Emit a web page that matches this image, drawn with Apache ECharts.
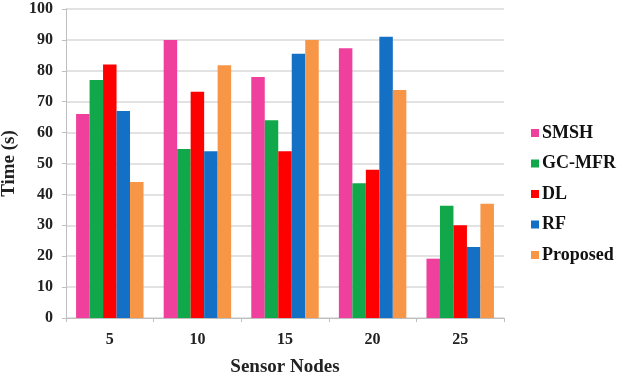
<!DOCTYPE html>
<html>
<head>
<meta charset="utf-8">
<script src="https://cdn.jsdelivr.net/npm/echarts@6/dist/echarts.min.js"></script>
<style>
  html, body { margin: 0; padding: 0; background: #fff; }
  #chart { width: 628px; height: 377px; }
</style>
</head>
<body>
<div id="chart"></div>
<script>
const nodes = ['5', '10', '15', '20', '25'];
const methods = ['SMSH', 'GC-MFR', 'DL', 'RF', 'Proposed'];
const colors = ['#f0409e', '#10a84a', '#ff0000', '#1470c4', '#f79646'];

const smsh = [66, 90, 78, 87.3, 19.2];
const gcmfr = [77, 54.7, 64, 43.6, 36.3];
const dl = [82, 73.2, 54, 48, 30];
const rf = [67, 54, 85.5, 91, 23];
const proposed = [44, 81.8, 90, 73.8, 37];

const values = [smsh, gcmfr, dl, rf, proposed];
const font = 'Liberation Serif';

const chart = echarts.init(document.getElementById('chart'));

const option = {
  animation: false,
  grid: { left: 66, right: 124, top: 9, bottom: 59, outerBoundsMode: 'none' },
  legend: {
    orient: 'vertical',
    left: 526,
    top: 119,
    itemWidth: 8,
    itemHeight: 8,
    itemGap: 12.5,
    icon: 'rect',
    data: methods,
    textStyle: { fontFamily: font, fontWeight: 'bold', fontSize: 18, color: '#111', lineHeight: 18, padding: [0, 0, 0, -2] }
  },
  xAxis: {
    type: 'category',
    data: nodes,
    name: 'Sensor Nodes',
    nameLocation: 'middle',
    nameGap: 40,
    nameTextStyle: { fontFamily: font, fontWeight: 'bold', fontSize: 19, color: '#222' },
    axisLine: { lineStyle: { color: '#bfbfbf' } },
    axisTick: { show: true, length: 4, lineStyle: { color: '#bfbfbf' } },
    axisLabel: { fontFamily: font, fontWeight: 'bold', fontSize: 16, color: '#222', margin: 14 }
  },
  yAxis: {
    type: 'value',
    min: 0,
    max: 100,
    interval: 10,
    name: 'Time (s)',
    nameLocation: 'middle',
    nameGap: 46,
    nameTextStyle: { fontFamily: font, fontWeight: 'bold', fontSize: 19, color: '#222' },
    axisLine: { show: true, lineStyle: { color: '#bfbfbf' } },
    axisTick: { show: true, length: 4, lineStyle: { color: '#bfbfbf' } },
    axisLabel: { fontFamily: font, fontWeight: 'bold', fontSize: 16, color: '#222', margin: 13 },
    splitLine: { lineStyle: { color: '#d9d9d9', width: 1.5 } }
  },
  series: methods.map((m, i) => ({
    name: m,
    type: 'bar',
    data: values[i],
    barGap: '0%',
    barCategoryGap: '23%',
    itemStyle: { color: colors[i] }
  }))
};

chart.setOption(option);
</script>
</body>
</html>
